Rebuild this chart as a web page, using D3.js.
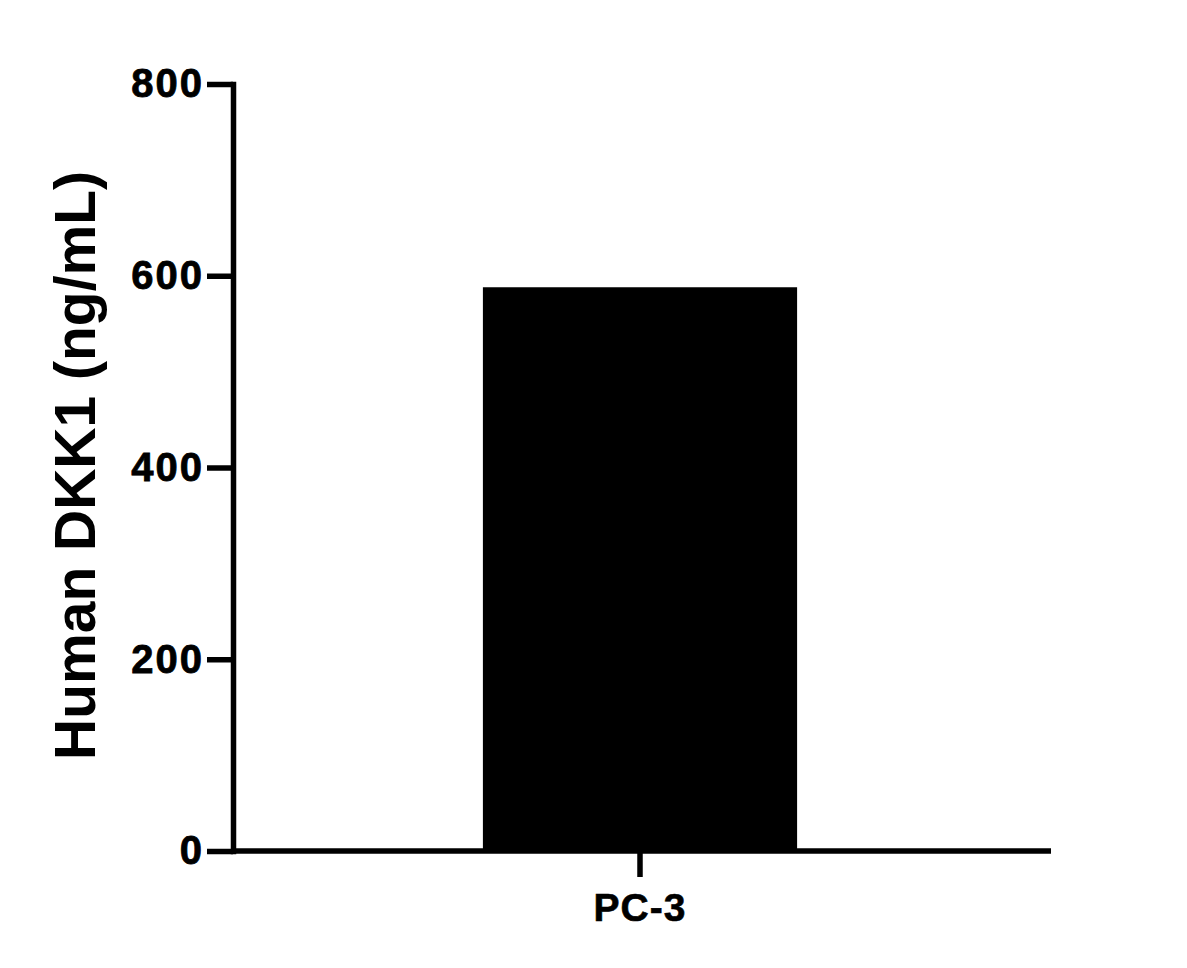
<!DOCTYPE html>
<html>
<head>
<meta charset="utf-8">
<script src="https://cdn.jsdelivr.net/npm/d3@7"></script>
<style>
  html, body { margin: 0; padding: 0; background: #fff; }
  svg { display: block; font-family: "Liberation Sans", Arial, sans-serif; font-weight: bold; }
</style>
</head>
<body>
<div id="chart"></div>
<script>
// Data
const categories = ["PC-3"];
const values = [588];
const yTicks = [0, 200, 400, 600, 800];
const yLabel = "Human DKK1 (ng/mL)";

const width = 1187;
const height = 968;
const plotLeft = 233, plotRight = 1047, plotTop = 84, plotBottom = 851;
const lineW = 5.5;
const tickLen = 26;

const svg = d3.select("#chart")
  .append("svg")
  .attr("width", width)
  .attr("height", height);

const x = d3.scaleBand()
  .domain(categories)
  .range([plotLeft, plotRight])
  .padding(0.443);

const y = d3.scaleLinear()
  .domain([0, 800])
  .range([plotBottom, plotTop]);

// Bars
svg.selectAll(".bar")
  .data(categories.map((c, i) => ({ name: c, value: values[i] })))
  .enter()
  .append("rect")
  .attr("class", "bar")
  .attr("x", (d) => x(d.name))
  .attr("width", x.bandwidth())
  .attr("y", (d) => y(d.value))
  .attr("height", (d) => y(0) - y(d.value))
  .attr("fill", "#000");

// Y axis
const yAxis = svg.append("g")
  .attr("transform", `translate(${plotLeft},0)`)
  .call(d3.axisLeft(y).tickValues(yTicks).tickSize(tickLen).tickSizeOuter(0).tickPadding(3));

yAxis.select(".domain")
  .attr("stroke", "#000")
  .attr("stroke-width", lineW)
  .attr("stroke-linecap", "square");
yAxis.selectAll(".tick line")
  .attr("stroke", "#000")
  .attr("stroke-width", lineW);
yAxis.selectAll(".tick text")
  .attr("font-family", "'Liberation Sans', Arial, sans-serif")
  .attr("font-weight", "bold")
  .attr("font-size", 40)
  .attr("letter-spacing", 2)
  .attr("stroke", "#000")
  .attr("stroke-width", 0.8)
  .attr("fill", "#000");

// X axis
const xAxis = svg.append("g")
  .attr("transform", `translate(0,${plotBottom})`)
  .call(d3.axisBottom(x).tickSize(tickLen).tickSizeOuter(0).tickPadding(16));

xAxis.select(".domain")
  .attr("d", `M${plotLeft},0H${plotRight + 4}`)
  .attr("stroke", "#000")
  .attr("stroke-width", lineW);
xAxis.selectAll(".tick line")
  .attr("stroke", "#000")
  .attr("stroke-width", lineW);
xAxis.selectAll(".tick text")
  .attr("font-family", "'Liberation Sans', Arial, sans-serif")
  .attr("font-weight", "bold")
  .attr("font-size", 39)
  .attr("letter-spacing", 1)
  .attr("stroke", "#000")
  .attr("stroke-width", 0.6)
  .attr("fill", "#000");

// Y axis title
svg.append("text")
  .attr("transform", `translate(95,${(plotTop + plotBottom) / 2 - 2}) rotate(-90)`)
  .attr("text-anchor", "middle")
  .attr("font-size", 57)
  .attr("fill", "#000")
  .text(yLabel);
</script>
</body>
</html>
